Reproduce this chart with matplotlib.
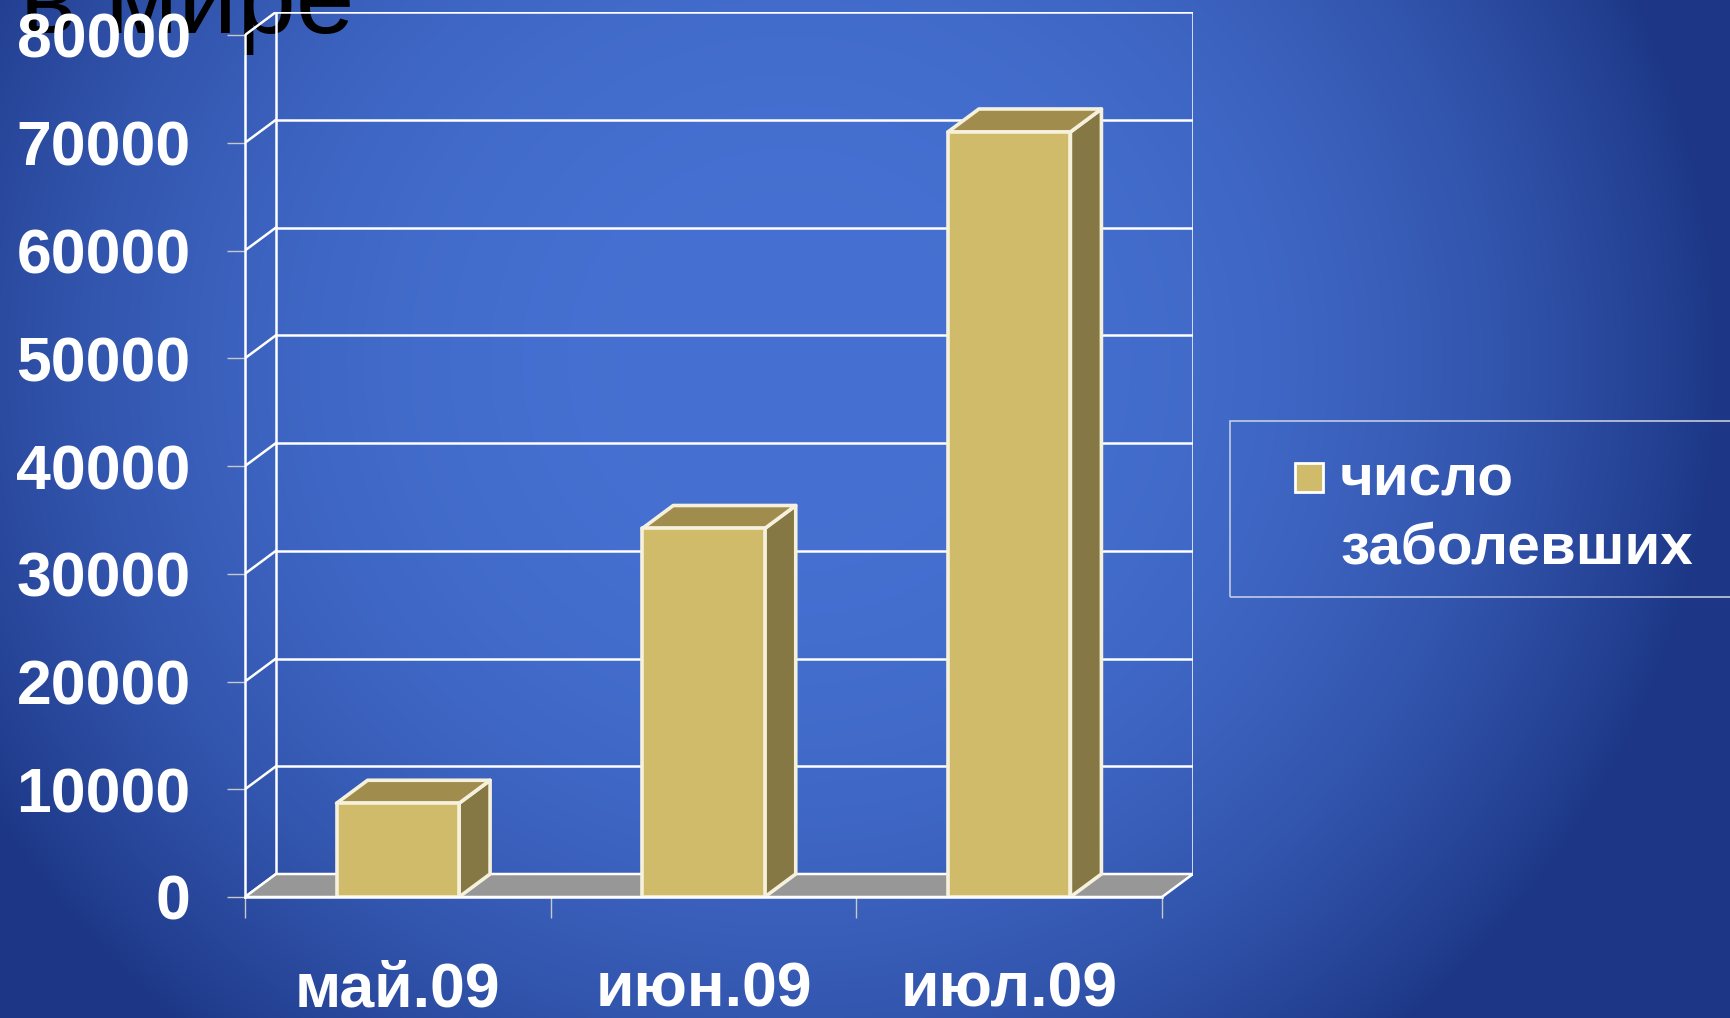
import numpy as np
import matplotlib
matplotlib.use('Agg')
import matplotlib.pyplot as plt
from matplotlib.patches import Rectangle, Polygon

plt.rcParams['font.family'] = ['Liberation Sans', 'DejaVu Sans']

# data
months = ['май.09', 'июн.09', 'июл.09']
cases = [8700, 34200, 71000]
yticks = list(range(0, 80001, 10000))
series_name = ['число', 'заболевших']
title = 'в мире'

# colours
front_c = '#cfbb69'
top_c = '#a08d4e'
side_c = '#857845'
edge_c = '#f6f1dc'
floor_c = '#979797'

W, H = 1730, 1018
fig = plt.figure(figsize=(W / 100, H / 100), dpi=100)

# background radial gradient
bg = fig.add_axes([0, 0, 1, 1], zorder=-2)
yy, xx = np.mgrid[0:H, 0:W]
d = np.hypot(xx - 790, (yy - 360) * 1.05)
t = np.clip((d / 930) ** 2.6, 0, 1)[..., None]
c_in = np.array([0x46, 0x71, 0xd2]) / 255
c_out = np.array([0x1d, 0x37, 0x86]) / 255
bg.imshow(c_in * (1 - t) + c_out * t, aspect='auto')
bg.axis('off')

fig.text(20 / W, 1 - 33 / H, title, fontsize=76, color='black',
         va='baseline', ha='left', zorder=-1)

# main axes: front plane 0..3 categories, depth added on the upper/right side
depth_px = (31, 23)
cat_px = (1162 - 245) / 3
val_px = (897 - 35) / 80000
ddx = depth_px[0] / cat_px
ddy = depth_px[1] / val_px

ax = fig.add_axes([245 / W, 1 - 897 / H, (1193 - 245) / W, (897 - 12) / H])
ax.set_facecolor('none')
ax.set_xlim(0, 3 + ddx)
ax.set_ylim(0, 80000 + ddy)

grid_kw = dict(color='white', lw=1.8, zorder=1)
for v in yticks:
    ax.plot([ddx, 3 + ddx], [v + ddy, v + ddy], **grid_kw)
    ax.plot([0, ddx], [v, v + ddy], **grid_kw)
ax.plot([ddx, ddx], [ddy, 80000 + ddy], **grid_kw)
ax.plot([3 + ddx, 3 + ddx], [ddy, 80000 + ddy], **grid_kw)

ax.add_patch(Polygon([(0, 0), (3, 0), (3 + ddx, ddy), (ddx, ddy)],
                     closed=True, fc=floor_c, ec='white', lw=1.8, zorder=2))

bw = 122.5 / cat_px
for i, v in enumerate(cases):
    x0 = i + 0.5 - bw / 2
    x1 = x0 + bw
    kw = dict(closed=True, ec=edge_c, lw=2.6, joinstyle='round', zorder=3)
    ax.add_patch(Polygon([(x1, 0), (x1 + ddx, ddy), (x1 + ddx, v + ddy), (x1, v)],
                         fc=side_c, **kw))
    ax.add_patch(Polygon([(x0, v), (x1, v), (x1 + ddx, v + ddy), (x0 + ddx, v + ddy)],
                         fc=top_c, **kw))
    ax.add_patch(Polygon([(x0, 0), (x1, 0), (x1, v), (x0, v)], fc=front_c, **kw))

for s in ['top', 'right']:
    ax.spines[s].set_visible(False)
ax.spines['left'].set_bounds(0, 80000)
ax.spines['bottom'].set_bounds(0, 3)
for s in ['left', 'bottom']:
    ax.spines[s].set_color('white')
    ax.spines[s].set_linewidth(1.8)
    ax.spines[s].set_zorder(4)

ax.set_yticks(yticks)
ax.set_yticklabels([str(v) for v in yticks])
ax.tick_params(axis='y', length=13, width=1, color='#c8c8c8', pad=26,
               labelsize=45, labelcolor='white')
for lab in ax.get_yticklabels():
    lab.set_fontweight('bold')

ax.set_xticks([0.5, 1.5, 2.5])
ax.set_xticklabels(months, fontsize=45, fontweight='bold', color='white')
ax.set_xticks([0, 1, 2, 3], minor=True)
ax.tick_params(axis='x', which='major', length=0, pad=46)
ax.tick_params(axis='x', which='minor', length=15, width=1, color='#c8c8c8')

# legend
fig.add_artist(Rectangle((1230 / W, 1 - 597 / H), 0.35, 176 / H,
                         transform=fig.transFigure, fill=False,
                         ec='#c3cbe0', lw=1.2))
fig.add_artist(Rectangle((1295 / W, 1 - 492 / H), 28 / W, 29 / H,
                         transform=fig.transFigure, fc=front_c,
                         ec='white', lw=2))
fig.text(1340 / W, 1 - 496 / H, series_name[0], fontsize=42,
         fontweight='bold', color='white', va='baseline')
fig.text(1340 / W, 1 - 564 / H, series_name[1], fontsize=42,
         fontweight='bold', color='white', va='baseline')

fig.savefig('out.png', dpi=100)
